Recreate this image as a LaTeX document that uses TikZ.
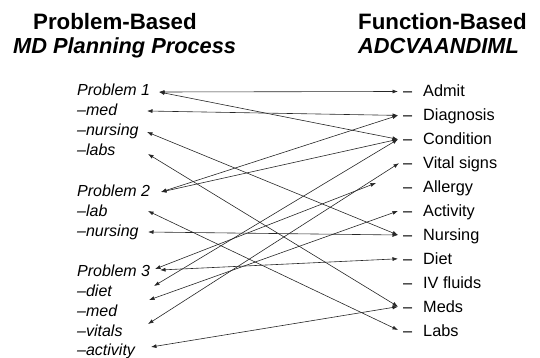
\documentclass[tikz,border=0pt]{standalone}
\usepackage{fontspec}
\setmainfont{Liberation Sans}
\usetikzlibrary{arrows.meta}
\begin{document}
\begin{tikzpicture}[x=1pt,y=-1pt,
  head/.style={font=\fontsize{22.3}{26}\selectfont\bfseries, anchor=base west, inner sep=0pt},
  subhead/.style={font=\fontsize{21.8}{26}\selectfont\bfseries\itshape, anchor=base west, inner sep=0pt},
  item/.style={font=\fontsize{16.3}{19}\selectfont, anchor=base west, inner sep=0pt},
  problem/.style={font=\fontsize{16}{19}\selectfont\itshape, anchor=base west, inner sep=0pt},
  link/.style={draw=black!85, line width=0.6pt,
    {Latex[length=5.5pt,width=4pt]}-{Latex[length=5.5pt,width=4pt]}}]
\useasboundingbox (0,0) rectangle (540,358);

% column headings
\node[head]    (hl1) at (33,30)  {Problem-Based};
\node[subhead] (hl2) at (13,54)  {MD Planning Process};
\node[head]    (hr1) at (358,30) {Function-Based};
\node[subhead] (hr2) at (358,54) {ADCVAANDIML};

% problem-based list
\node[problem] (p1)      at (77,96)  {Problem 1};
\node[problem] (p1med)   at (77,116) {–med};
\node[problem] (p1nurs)  at (77,136) {–nursing};
\node[problem] (p1labs)  at (77,156) {–labs};
\node[problem] (p2)      at (77,196) {Problem 2};
\node[problem] (p2lab)   at (77,216) {–lab};
\node[problem] (p2nurs)  at (77,236) {–nursing};
\node[problem] (p3)      at (77,276) {Problem 3};
\node[problem] (p3diet)  at (77,296) {–diet};
\node[problem] (p3med)   at (77,316) {–med};
\node[problem] (p3vit)   at (77,336) {–vitals};
\node[problem] (p3act)   at (77,355) {–activity};

% function-based list
\node[item] (admit) at (403,97.0)  {\makebox[20pt][l]{–}Admit};
\node[item] (diag)  at (403,120.9) {\makebox[20pt][l]{–}Diagnosis};
\node[item] (cond)  at (403,144.8) {\makebox[20pt][l]{–}Condition};
\node[item] (vital) at (403,168.7) {\makebox[20pt][l]{–}Vital signs};
\node[item] (allg)  at (403,192.6) {\makebox[20pt][l]{–}Allergy};
\node[item] (activ) at (403,216.5) {\makebox[20pt][l]{–}Activity};
\node[item] (nurs)  at (403,240.4) {\makebox[20pt][l]{–}Nursing};
\node[item] (diet)  at (403,264.3) {\makebox[20pt][l]{–}Diet};
\node[item] (ivf)   at (403,288.2) {\makebox[20pt][l]{–}IV fluids};
\node[item] (meds)  at (403,312.1) {\makebox[20pt][l]{–}Meds};
\node[item] (labs)  at (403,336.0) {\makebox[20pt][l]{–}Labs};

% arrow ends beside the problem-based entries
\coordinate (e-p1)     at (159,92);
\coordinate (e-p1med)  at (147,111);
\coordinate (e-p1nurs) at (147,132);
\coordinate (e-p1labs) at (148,154);
\coordinate (e-p2)     at (161,192);
\coordinate (e-p2lab)  at (148,211);
\coordinate (e-p2nurs) at (148,232);
\coordinate (e-p3)     at (155,269);
\coordinate (e-p3b)    at (160,270);
\coordinate (e-p3diet) at (154,286);
\coordinate (e-p3med)  at (149,300);
\coordinate (e-p3vit)  at (148,324);
\coordinate (e-p3act)  at (151,347);

% arrow ends beside the function-based entries
\coordinate (e-admit) at (398,91.5);
\coordinate (e-diag)  at (398,115.4);
\coordinate (e-cond)  at (398,139.3);
\coordinate (e-vital) at (399,163.2);
\coordinate (e-allg)  at (376,183);
\coordinate (e-activ) at (398,211.0);
\coordinate (e-nurs)  at (398,235.0);
\coordinate (e-diet)  at (398,258.8);
\coordinate (e-meds)  at (398,306.6);
\coordinate (e-labs)  at (398,330.0);

% links
\draw[link] (e-p1) -- (e-admit);
\draw[link] (e-p1) -- (e-cond);
\draw[link] (e-p1med) -- (e-diag);
\draw[link] (e-p1nurs) -- (e-nurs);
\draw[link] (e-p1labs) -- (e-meds);
\draw[link] (e-p2) -- (e-diag);
\draw[link] (e-p2) -- (e-cond);
\draw[link] (e-p2lab) -- (e-labs);
\draw[link] (e-p2nurs) -- (e-nurs);
\draw[link] (e-p3) -- (e-allg);
\draw[link] (e-p3b) -- (e-diet);
\draw[link] (e-p3diet) -- (e-cond);
\draw[link] (e-p3med) -- (e-activ);
\draw[link] (e-p3vit) -- (e-vital);
\draw[link] (e-p3act) -- (e-meds);
\end{tikzpicture}
\end{document}
